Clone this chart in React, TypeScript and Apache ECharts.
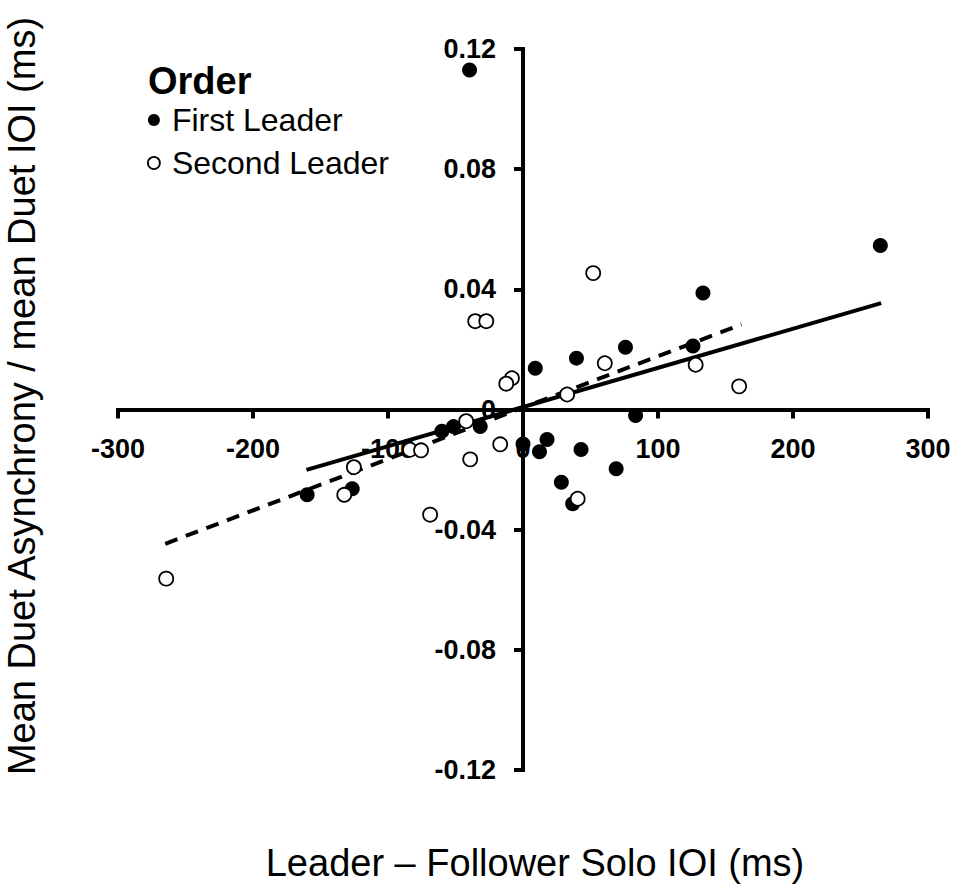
import React, { useEffect, useRef } from "react";
import * as echarts from "echarts";

const xTicks = { min: -300, max: 300, interval: 100 };
const yTicks = { min: -0.12, max: 0.12, interval: 0.04 };

const firstLeader: [number, number][] = [
  [-39.6, 0.113],
  [264.7, 0.0546],
  [133.3, 0.0388],
  [75.9, 0.0207],
  [125.9, 0.0211],
  [39.6, 0.0171],
  [9.1, 0.0137],
  [83.4, -0.002],
  [17.8, -0.01],
  [12.2, -0.0141],
  [43.0, -0.0133],
  [69.0, -0.0197],
  [28.4, -0.0242],
  [36.8, -0.0314],
  [0, -0.0115],
  [-31.7, -0.0057],
  [-51.5, -0.0057],
  [-60.1, -0.0072],
  [-126.5, -0.0264],
  [-159.9, -0.0284],
];

const secondLeader: [number, number][] = [
  [52.0, 0.0454],
  [-35.4, 0.0294],
  [-27.2, 0.0294],
  [60.6, 0.0154],
  [127.9, 0.0149],
  [160.1, 0.0077],
  [32.7, 0.005],
  [-8.2, 0.0104],
  [-12.4, 0.0086],
  [-42.1, -0.0039],
  [-16.9, -0.0116],
  [-39.1, -0.0166],
  [-83.7, -0.0134],
  [-75.5, -0.0136],
  [-125.3, -0.0192],
  [-132.4, -0.0284],
  [-68.8, -0.035],
  [40.5, -0.0297],
  [-264.3, -0.0563],
];

const fitFirst: [number, number][] = [
  [-160.4, -0.0201],
  [265.3, 0.0354],
];
const fitSecond: [number, number][] = [
  [-265, -0.0447],
  [161.8, 0.0283],
];

const FONT = "'Liberation Sans', Arial, sans-serif";

const GRID = { left: 118, right: 27, top: 49, bottom: 124 };
const W = 955;
const H = 894;

export default function App() {
  const ref = useRef<HTMLDivElement>(null);
  useEffect(() => {
    if (!ref.current) return;
    const chart = echarts.init(ref.current, undefined, { renderer: "svg" });
    const gridW = W - GRID.left - GRID.right;
    const gridH = H - GRID.top - GRID.bottom;
    // move axes to cross at the origin
    const yOffset = -gridW * ((0 - xTicks.min) / (xTicks.max - xTicks.min));
    const xOffset = -gridH * ((0 - yTicks.min) / (yTicks.max - yTicks.min));
    const axisCommon = {
      type: "value" as const,
      axisLine: { show: true, onZero: false, lineStyle: { color: "#000", width: 4, cap: "square" } },
      axisTick: { show: true, inside: false, length: 9, lineStyle: { color: "#000", width: 4 } },
      splitLine: { show: false },
      axisLabel: {
        color: "#000",
        fontFamily: FONT,
        fontWeight: "bold" as const,
        fontSize: 27,
        margin: 26,
      },
    };
    chart.setOption({
      animation: false,
      backgroundColor: "#fff",
      grid: { ...GRID, containLabel: false },
      xAxis: {
        ...axisCommon,
        position: "bottom",
        offset: xOffset,
        min: xTicks.min,
        max: xTicks.max,
        interval: xTicks.interval,
      },
      yAxis: {
        ...axisCommon,
        position: "left",
        offset: yOffset,
        min: yTicks.min,
        max: yTicks.max,
        interval: yTicks.interval,
        axisLabel: {
          ...axisCommon.axisLabel,
          margin: 27,
          formatter: (v: number) => (Math.abs(v) < 1e-9 ? "0" : v.toFixed(2)),
        },
      },
      legend: {
        orient: "vertical",
        left: 142,
        top: 99,
        itemWidth: 26,
        itemHeight: 12,
        itemGap: 11,
        textStyle: { fontFamily: FONT, fontSize: 32, color: "#000", lineHeight: 32 },
        data: [
          { name: "First Leader", icon: "circle", itemStyle: { color: "#000", borderWidth: 0 } },
          {
            name: "Second Leader",
            icon: "circle",
            itemStyle: { color: "#fff", borderColor: "#000", borderWidth: 1.8 },
          },
        ],
      },
      graphic: [
        {
          type: "text",
          left: 148,
          top: 62,
          style: { text: "Order", fontFamily: FONT, fontWeight: "bold", fontSize: 38, fill: "#000" },
        },
        {
          type: "text",
          x: 535,
          y: 863,
          style: {
            text: "Leader – Follower Solo IOI (ms)",
            fontFamily: FONT,
            fontSize: 38,
            fill: "#000",
            textAlign: "center",
            textVerticalAlign: "middle",
          },
        },
        {
          type: "text",
          x: 22,
          y: 396,
          rotation: Math.PI / 2,
          style: {
            text: "Mean Duet Asynchrony / mean Duet IOI (ms)",
            fontFamily: FONT,
            fontSize: 38,
            fill: "#000",
            textAlign: "center",
            textVerticalAlign: "middle",
          },
        },
      ],
      series: [
        {
          name: "fitFirst",
          type: "line",
          data: fitFirst,
          symbol: "none",
          lineStyle: { color: "#000", width: 4, type: "solid" },
          z: 2,
        },
        {
          name: "fitSecond",
          type: "line",
          data: fitSecond,
          symbol: "none",
          lineStyle: { color: "#000", width: 4, type: [13, 9] },
          z: 2,
        },
        {
          name: "First Leader",
          type: "scatter",
          data: firstLeader,
          symbol: "circle",
          symbolSize: 15,
          itemStyle: { color: "#000", opacity: 1 },
          z: 3,
        },
        {
          name: "Second Leader",
          type: "scatter",
          data: secondLeader,
          symbol: "circle",
          symbolSize: 14,
          itemStyle: { color: "#fff", borderColor: "#000", borderWidth: 1.8, opacity: 1 },
          z: 4,
        },
      ],
    });
    return () => chart.dispose();
  }, []);
  return (
    <div
      ref={ref}
      style={{ position: "fixed", left: 0, top: 0, width: W, height: H, background: "#fff" }}
    />
  );
}
